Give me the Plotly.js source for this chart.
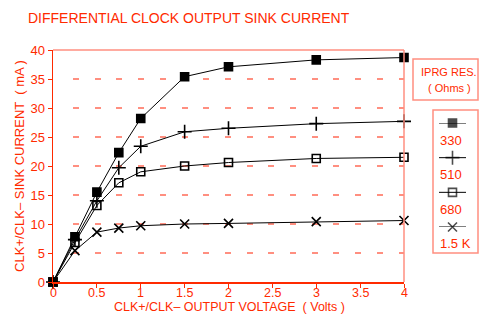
<!DOCTYPE html>
<html><head><meta charset="utf-8">
<script src="https://cdn.plot.ly/plotly-3.0.1.min.js"></script>
<style>html,body{margin:0;padding:0;background:#fff}#chart{width:479px;height:318px}</style>
</head><body><div id="chart"></div>
<script>
const voltage = [0, 0.25, 0.5, 0.75, 1, 1.5, 2, 3, 4];
const r330 = [0, 7.8, 15.5, 22.3, 28.2, 35.4, 37.1, 38.3, 38.7];
const r510 = [0, 7.3, 14.0, 19.7, 23.4, 25.9, 26.5, 27.3, 27.7];
const r680 = [0, 6.8, 13.2, 17.1, 19.0, 20.0, 20.6, 21.3, 21.5];
const r1k5 = [0, 5.4, 8.6, 9.3, 9.7, 10.0, 10.1, 10.4, 10.6];
const seriesNames = ['330', '510', '680', '1.5 K'];
const symbols = ['square', 'cross-thin-open', 'square-open', 'x-thin-open'];
const sizes = [8, 10, 8, 9];
const yTicks = [0, 5, 10, 15, 20, 25, 30, 35, 40];
const xTicks = [0, 0.5, 1, 1.5, 2, 2.5, 3, 3.5, 4];

const RED = '#ff2a00';
const SALMON = '#ff8f80';
const FONT = 'Liberation Sans, Arial, sans-serif';
const W = 479, H = 318, ML = 53, MR = 1, MT = 50, MB = 36;
const PW = W - ML - MR, PH = H - MT - MB;
const px = x => (x - ML) / PW;
const py = y => (H - MB - y) / PH;

let dashParts = ['0px', '20px'];
for (let k = 0; k < 20; k++) dashParts.push('6px', '15.7px');
const gridDash = dashParts.join(',');

const data = [r330, r510, r680, r1k5];
const traces = data.map((ys, i) => ({
  x: voltage, y: ys, type: 'scatter', mode: 'lines+markers',
  name: seriesNames[i], showlegend: false, cliponaxis: false,
  line: {color: '#000', width: 1},
  marker: {symbol: symbols[i], size: sizes[i], color: '#000', line: {color: '#000', width: 1.6}}
}));
seriesNames.forEach((n, i) => {
  traces.push({
    x: [0, 0.5, 1], y: [i, i, i], xaxis: 'x2', yaxis: 'y2', type: 'scatter', mode: 'lines+markers',
    showlegend: false, cliponaxis: false, hoverinfo: 'skip',
    line: {color: '#000', width: 1},
    marker: {symbol: symbols[i], size: [0, sizes[i], 0], color: '#000', line: {color: '#000', width: 1.6}}
  });
});

const xEnd = px(404);
const ann = (text, x, y, xa, size) => ({text, x: px(x), y: py(y), xref: 'paper', yref: 'paper',
  xanchor: xa, yanchor: 'middle', showarrow: false, font: {family: FONT, size: size, color: RED}});
const annotations = [
  ann('IPRG RES.', 449, 72, 'center', 11),
  ann('( Ohms )', 449, 88, 'center', 11),
  ann('CLK+/CLK\u2013 OUTPUT VOLTAGE  ( Volts )', 229, 307, 'center', 12.5)
];
seriesNames.forEach((n, i) => annotations.push(ann(n, 438, 140 + i * 34.5, 'left', 13)));
xTicks.forEach(v => annotations.push({text: String(v), x: v, xref: 'x', y: py(293), yref: 'paper',
  xanchor: 'center', yanchor: 'middle', showarrow: false, font: {family: FONT, size: 12.5, color: RED}}));

const layout = {
  width: W, height: H,
  margin: {l: ML, r: MR, t: MT, b: MB},
  paper_bgcolor: '#fff', plot_bgcolor: '#fff',
  title: {text: 'DIFFERENTIAL CLOCK OUTPUT SINK CURRENT', xref: 'container', yref: 'container',
    x: 28 / W, xanchor: 'left', y: 1 - 18 / H, yanchor: 'middle',
    font: {family: FONT, size: 14, color: RED}},
  xaxis: {domain: [0, xEnd], range: [0, 4], tickvals: xTicks, showticklabels: false,
    ticks: 'outside', ticklen: 4, tickcolor: RED, tickwidth: 1,
    showline: true, linecolor: RED, linewidth: 1.5, showgrid: false, zeroline: false},
  yaxis: {range: [0, 40], tickvals: yTicks, ticktext: yTicks.map(String),
    ticks: 'outside', ticklen: 4, tickcolor: RED, tickwidth: 1,
    showline: true, linecolor: RED, linewidth: 1.5, zeroline: false,
    showgrid: true, gridcolor: SALMON, griddash: gridDash, gridwidth: 1.5,
    tickfont: {family: FONT, size: 13, color: RED},
    title: {text: 'CLK+/CLK\u2013 SINK CURRENT  ( mA )', standoff: 3, font: {family: FONT, size: 13, color: RED}}},
  xaxis2: {domain: [px(439), px(466)], range: [0, 1], visible: false, anchor: 'y2'},
  yaxis2: {domain: [py(227), py(123)], range: [3, 0], visible: false, anchor: 'x2'},
  shapes: [
    {type: 'line', xref: 'paper', yref: 'paper', x0: 0, x1: xEnd, y0: 1, y1: 1, line: {color: SALMON, width: 1.5}},
    {type: 'line', xref: 'paper', yref: 'paper', x0: xEnd, x1: xEnd, y0: 0, y1: 1, line: {color: SALMON, width: 1.5}},
    {type: 'rect', xref: 'paper', yref: 'paper', x0: px(413), x1: px(478), y0: py(100), y1: py(59), line: {color: SALMON, width: 1.5}},
    {type: 'rect', xref: 'paper', yref: 'paper', x0: px(433), x1: px(478), y0: py(253), y1: py(110), line: {color: SALMON, width: 1.5}}
  ],
  annotations: annotations
};
Plotly.newPlot('chart', traces, layout, {displayModeBar: false, staticPlot: true});
</script></body></html>
